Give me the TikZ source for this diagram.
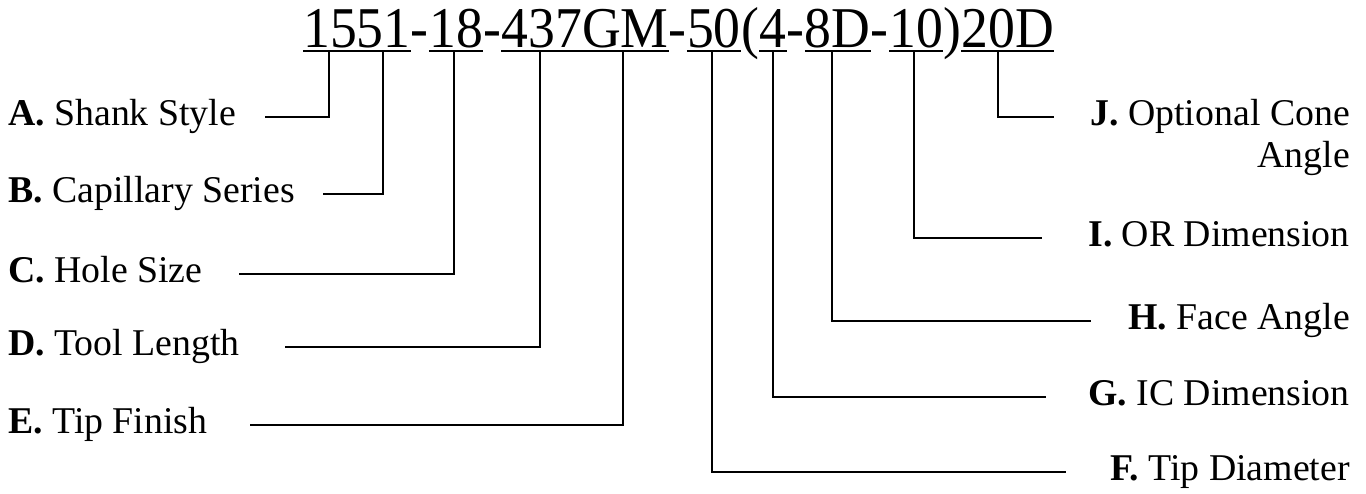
\documentclass[tikz,border=0pt]{standalone}
\usepackage{fontspec}
\setmainfont{Liberation Serif}
\usetikzlibrary{calc}
\newcommand{\codeseg}[1]{\scalebox{0.93}[1]{#1}}
\begin{document}
\begin{tikzpicture}[x=1pt,y=-1pt,
  seg/.style={inner sep=0pt, anchor=base west, font=\fontsize{57.7}{60}\selectfont},
  lab/.style={inner sep=0pt, font=\fontsize{37.8}{42}\selectfont},
  labl/.style={lab, anchor=base west},
  labr/.style={lab, anchor=base east},
  uline/.style={line width=2pt},
  conn/.style={line width=2pt, line join=miter}]
\useasboundingbox (0,0) rectangle (1366,493);

% code string
\node[seg] (s1) at (303,47) {\codeseg{1551}};
\node[seg] (h1) at (s1.base east) {\codeseg{-}};
\node[seg] (s2) at (h1.base east) {\codeseg{18}};
\node[seg] (h2) at (s2.base east) {\codeseg{-}};
\node[seg] (s3) at (h2.base east) {\codeseg{437GM}};
\node[seg] (h3) at (s3.base east) {\codeseg{-}};
\node[seg] (s4) at (h3.base east) {\codeseg{50}};
\node[seg] (p1) at (s4.base east) {\codeseg{(}};
\node[seg] (s5) at (p1.base east) {\codeseg{4}};
\node[seg] (h4) at (s5.base east) {\codeseg{-}};
\node[seg] (s6) at (h4.base east) {\codeseg{8D}};
\node[seg] (h5) at (s6.base east) {\codeseg{-}};
\node[seg] (s7) at (h5.base east) {\codeseg{10}};
\node[seg] (p2) at (s7.base east) {\codeseg{)}};
\node[seg] (s8) at (p2.base east) {\codeseg{20D}};

\foreach \n in {s1,s2,s3,s4,s5,s6,s7,s8}
  \draw[uline] ([yshift=-4pt]\n.base west) -- ([yshift=-4pt]\n.base east);

% tick points on the underlines
\coordinate (tA) at ($(s1.base west)!0.245!(s1.base east)+(0,4)$);
\coordinate (tB) at ($(s1.base west)!0.745!(s1.base east)+(0,4)$);
\coordinate (tC) at ($(s2.base west)!0.47!(s2.base east)+(0,4)$);
\coordinate (tD) at ($(s3.base west)!0.23!(s3.base east)+(0,4)$);
\coordinate (tE) at ($(s3.base west)!0.73!(s3.base east)+(0,4)$);
\coordinate (tF) at ($(s4.base west)!0.47!(s4.base east)+(0,4)$);
\coordinate (tG) at ($(s5.base west)!0.5!(s5.base east)+(0,4)$);
\coordinate (tH) at ($(s6.base west)!0.41!(s6.base east)+(0,4)$);
\coordinate (tI) at ($(s7.base west)!0.46!(s7.base east)+(0,4)$);
\coordinate (tJ) at ($(s8.base west)!0.40!(s8.base east)+(0,4)$);

% left labels
\node[labl] (A) at (8,125) {\textbf{A.} Shank Style};
\node[labl] (B) at (8,202) {\textbf{B.} Capillary Series};
\node[labl] (C) at (8,282) {\textbf{C.} Hole Size};
\node[labl] (D) at (8,355) {\textbf{D.} Tool Length};
\node[labl] (E) at (8,433) {\textbf{E.} Tip Finish};

% right labels
\node[labr] (J) at (1350,125) {\textbf{J.} Optional Cone};
\node[labr] (J2) at (1350,167) {Angle};
\node[labr] (I) at (1350,246) {\textbf{I.} OR Dimension};
\node[labr] (H) at (1350,329) {\textbf{H.} Face Angle};
\node[labr] (G) at (1350,405) {\textbf{G.} IC Dimension};
\node[labr] (F) at (1350,480) {\textbf{F.} Tip Diameter};

% connector ends next to the labels
\coordinate (eA) at (265,117);
\coordinate (eB) at (323,194);
\coordinate (eC) at (239,274);
\coordinate (eD) at (285,347);
\coordinate (eE) at (250,425);
\coordinate (eJ) at (1054,117);
\coordinate (eI) at (1042,238);
\coordinate (eH) at (1091,321);
\coordinate (eG) at (1046,397);
\coordinate (eF) at (1066,472);

\foreach \k in {A,B,C,D,E,F,G,H,I,J}
  \draw[conn] (t\k) |- (e\k);
\end{tikzpicture}
\end{document}
